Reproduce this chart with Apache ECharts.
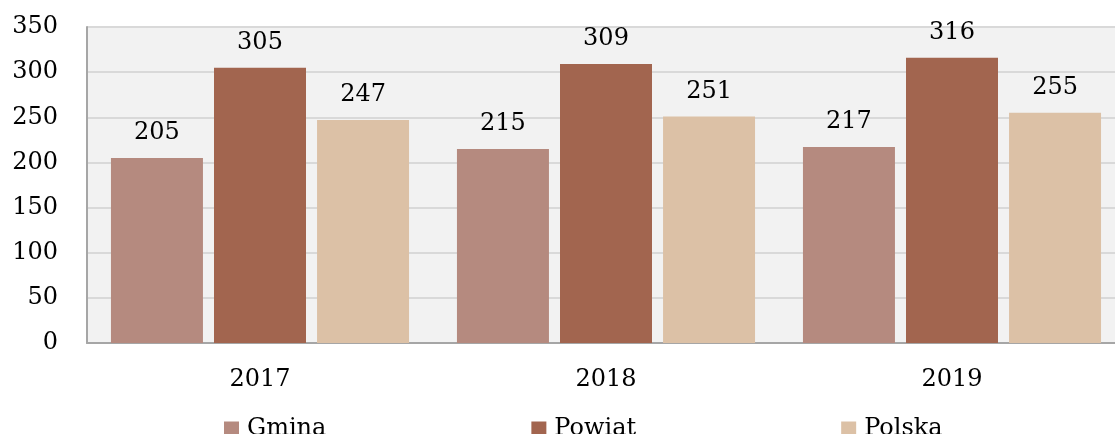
<!DOCTYPE html>
<html style="height: 100%">
    <head>
        <meta charset="utf-8">
    </head>
    <body style="height: 100%; margin: 0; overflow: hidden">
        <div id="container" style="height: 434px; width: 1125px;"></div>

        <script type="text/javascript" src="https://cdn.jsdelivr.net/npm/echarts@6/dist/echarts.min.js"></script>
        <script type="text/javascript">
var years = ['2017', '2018', '2019'];
var gmina = [205, 215, 217];
var powiat = [305, 309, 316];
var polska = [247, 251, 255];
var yTicks = [0, 50, 100, 150, 200, 250, 300, 350];

var dom = document.getElementById("container");
var myChart = echarts.init(dom);

var FONT = 'DejaVu Serif';
var FSIZE = 24;

function barSeries(name, data, color) {
	return {
		name: name,
		type: 'bar',
		data: data,
		barWidth: 92,
		barGap: '12%',
		itemStyle: {color: color},
		label: {
			show: true,
			position: 'top',
			distance: 13,
			fontFamily: FONT,
			fontSize: FSIZE,
			color: '#000'
		}
	};
}

var option = {
	animation: false,
	backgroundColor: '#fff',
	textStyle: {fontFamily: FONT},
	grid: {
		left: 87,
		right: 0,
		top: 27,
		bottom: 91,
		show: true,
		backgroundColor: '#f2f2f2',
		borderWidth: 0
	},
	legend: {
		top: 412,
		left: 219,
		itemWidth: 15,
		itemHeight: 15,
		itemGap: 205,
		icon: 'rect',
		textStyle: {fontFamily: FONT, fontSize: FSIZE, color: '#000', padding: [0, 0, 0, 3]},
		data: ['Gmina', 'Powiat', 'Polska']
	},
	xAxis: {
		type: 'category',
		data: years,
		axisLine: {lineStyle: {color: '#a6a6a6', width: 2}},
		axisTick: {show: false},
		axisLabel: {fontFamily: FONT, fontSize: FSIZE, color: '#000', margin: 25}
	},
	yAxis: {
		type: 'value',
		min: yTicks[0],
		max: yTicks[yTicks.length - 1],
		interval: 50,
		axisLine: {show: true, lineStyle: {color: '#a6a6a6', width: 2}},
		axisTick: {show: false},
		axisLabel: {fontFamily: FONT, fontSize: FSIZE, color: '#000', margin: 29},
		splitLine: {lineStyle: {color: '#d9d9d9', width: 2}}
	},
	series: [
		barSeries('Gmina', gmina, '#b58a7f'),
		barSeries('Powiat', powiat, '#a2654f'),
		barSeries('Polska', polska, '#dcc1a6')
	]
};

myChart.setOption(option);
        </script>
    </body>
</html>
